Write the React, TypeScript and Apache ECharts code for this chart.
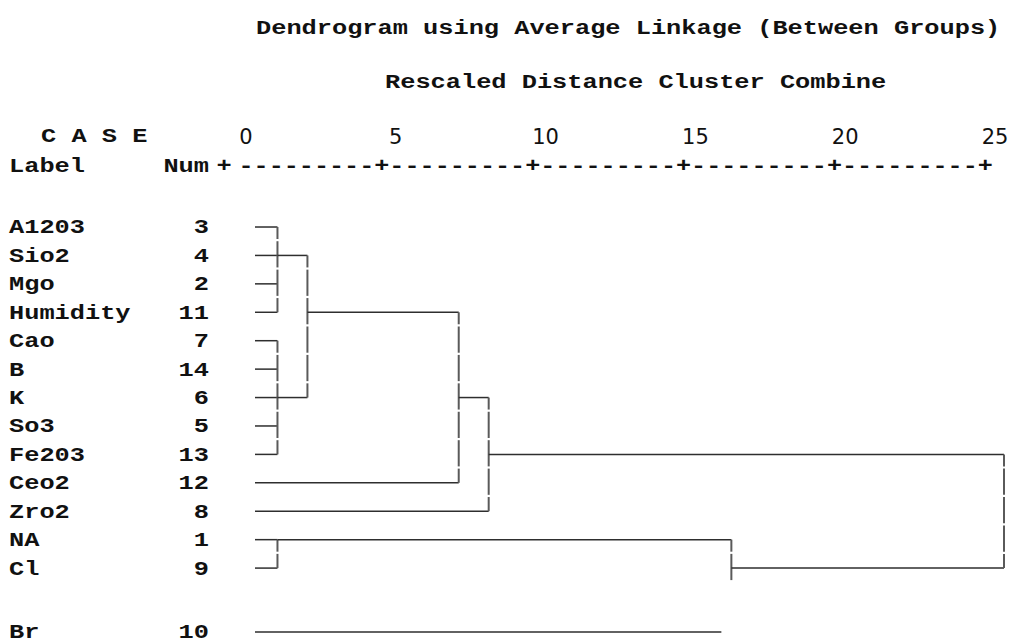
import React, { useEffect, useRef } from "react";
import * as echarts from "echarts";

// ---- data ----
const rowLabels = ["A1203", "Sio2", "Mgo", "Humidity", "Cao", "B", "K", "So3", "Fe203", "Ceo2", "Zro2", "NA", "Cl"];
const rowNums = [3, 4, 2, 11, 7, 14, 6, 5, 13, 12, 8, 1, 9];
const outlierLabel = "Br";
const outlierNum = 10;

// clusters (rescaled distance at which they combine)
const clusterHeight = [0.75, 0.75, 1.75, 6.8, 7.8, 0.75, 15.9, 25];
const clusterTopRow = [0, 4, 1, 3, 6, 11, 11, 8];
const clusterBottomRow = [3, 8, 6, 9, 10, 12, 12, 12];
const clusterOutRow = [1, 6, 3, 6, 8, 11, 12, -1];
const clusterParent = [2, 2, 3, 4, 7, 6, 7, -1];
const clusterContinues = [0, 0, 0, 0, 0, 0, 1, 0];
const leafParent = [0, 0, 0, 0, 1, 1, 1, 1, 1, 3, 4, 5, 5];
const outlierParent = 6;

const distanceTicks = [0, 5, 10, 15, 20, 25];

const titleText = "Dendrogram using Average Linkage (Between Groups)";
const subtitleText = "Rescaled Distance Cluster Combine";

const MONO = '"Liberation Mono", "Courier New", monospace';
const FONT = `bold 21px ${MONO}`;
const SX = 1.206;
const INK = "#111";
const HCOL = "#2e2e2e";
const VCOL = "#5a5a5a";

function txt(text: string, x: number, y: number, align: string, sx = SX, font = FONT) {
  return {
    type: "text",
    x,
    y,
    scaleX: sx,
    silent: true,
    style: {
      text,
      font,
      fill: INK,
      align,
      verticalAlign: "middle",
      textAlign: align,
      textVerticalAlign: "middle",
    },
  };
}

export default function App() {
  const ref = useRef<HTMLDivElement>(null);

  useEffect(() => {
    if (!ref.current) return;
    const chart = echarts.init(ref.current, undefined, { renderer: "svg" });

    const clusterData = clusterHeight.map((h, i) => [
      h,
      clusterTopRow[i],
      clusterBottomRow[i],
      clusterOutRow[i],
      clusterParent[i] >= 0 ? clusterHeight[clusterParent[i]] : -1,
      clusterContinues[i],
    ]);
    const leafData = rowLabels.map((_, i) => [clusterHeight[leafParent[i]], i]);

    const labelRender = (labels: string[], nums: number[]) => (params: any, api: any) => {
      const i = params.dataIndex;
      const cy = api.coord([0, api.value(1)])[1] + 1;
      return {
        type: "group",
        children: [txt(labels[i], 9, cy, "left"), txt(String(nums[i]), 209, cy, "right")],
      };
    };

    const option: any = {
      animation: false,
      backgroundColor: "#ffffff",
      grid: [
        { left: 255, width: 749, top: 212.8, height: 369.5 },
        { left: 246, width: 749, top: 136, height: 1 },
        { left: 255, width: 749, top: 619.8, height: 28.4 },
      ],
      xAxis: [
        { gridIndex: 0, type: "value", min: 0, max: 25, show: false },
        {
          gridIndex: 1,
          type: "value",
          min: distanceTicks[0],
          max: distanceTicks[distanceTicks.length - 1],
          interval: distanceTicks[1] - distanceTicks[0],
          axisLine: { show: false },
          axisTick: { show: false },
          splitLine: { show: false },
          axisLabel: {
            margin: 0,
            verticalAlign: "middle",
            fontFamily: '"DejaVu Sans", sans-serif',
            fontSize: 21,
            lineHeight: 22,
            color: INK,
            showMinLabel: true,
            showMaxLabel: true,
          },
        },
        { gridIndex: 2, type: "value", min: 0, max: 25, show: false },
      ],
      yAxis: [
        { gridIndex: 0, type: "category", data: rowLabels, inverse: true, show: false },
        { gridIndex: 1, type: "value", show: false },
        { gridIndex: 2, type: "category", data: [outlierLabel], inverse: true, show: false },
      ],
      graphic: [
        txt(titleText, 256, 29, "left"),
        txt(subtitleText, 385, 83, "left"),
        txt("C A S E", 41, 137, "left"),
        txt("Label", 9, 167, "left"),
        txt("Num", 209, 167, "right"),
        txt("+", 224, 167, "center"),
        txt("---------+---------+---------+---------+---------+", 238.5, 167, "left", 1.198),
      ],
      series: [
        {
          type: "custom",
          name: "labels",
          xAxisIndex: 0,
          yAxisIndex: 0,
          data: rowLabels.map((_, i) => [0, i]),
          encode: { x: 0, y: 1 },
          renderItem: labelRender(rowLabels, rowNums),
        },
        {
          type: "custom",
          name: "outlierLabel",
          xAxisIndex: 2,
          yAxisIndex: 2,
          data: [[0, 0]],
          encode: { x: 0, y: 1 },
          renderItem: labelRender([outlierLabel], [outlierNum]),
        },
        {
          type: "custom",
          name: "leaves",
          xAxisIndex: 0,
          yAxisIndex: 0,
          data: leafData,
          encode: { x: 0, y: 1 },
          renderItem: (params: any, api: any) => {
            const p0 = api.coord([0, api.value(1)]);
            const p1 = api.coord([api.value(0), api.value(1)]);
            return {
              type: "line",
              shape: { x1: p0[0], y1: p0[1], x2: p1[0], y2: p1[1] },
              style: { stroke: HCOL, lineWidth: 1.5 },
            };
          },
        },
        {
          type: "custom",
          name: "outlierLeaf",
          xAxisIndex: 2,
          yAxisIndex: 2,
          data: [[clusterHeight[outlierParent], 0]],
          encode: { x: 0, y: 1 },
          renderItem: (params: any, api: any) => {
            const p0 = api.coord([0, 0]);
            const p1 = api.coord([api.value(0), 0]);
            return {
              type: "line",
              shape: { x1: p0[0], y1: p0[1], x2: p1[0] - 10, y2: p1[1] },
              style: { stroke: HCOL, lineWidth: 1.5 },
            };
          },
        },
        {
          type: "custom",
          name: "clusters",
          xAxisIndex: 0,
          yAxisIndex: 0,
          data: clusterData,
          encode: { x: 0, y: 1 },
          renderItem: (params: any, api: any) => {
            const h = api.value(0);
            const top = api.value(1);
            const bot = api.value(2);
            const out = api.value(3);
            const ph = api.value(4);
            const cont = api.value(5);
            const band = api.size([0, 1])[1];
            const px = api.coord([h, top])[0];
            const children: any[] = [];
            for (let r = top; r <= bot; r++) {
              const cy = api.coord([h, r])[1];
              let y1 = cy - band / 2;
              let y2 = cy + band / 2 - 2.2;
              if (r === top) y1 = cy;
              if (r === bot && !cont) y2 = cy;
              children.push({
                type: "line",
                shape: { x1: px, y1, x2: px, y2 },
                style: { stroke: VCOL, lineWidth: 2 },
              });
            }
            if (out >= 0 && ph >= 0) {
              const a = api.coord([h, out]);
              const b = api.coord([ph, out]);
              children.push({
                type: "line",
                shape: { x1: a[0], y1: a[1], x2: b[0], y2: b[1] },
                style: { stroke: HCOL, lineWidth: 1.5 },
              });
            }
            return { type: "group", children };
          },
        },
      ],
    };

    chart.setOption(option);
    return () => chart.dispose();
  }, []);

  return (
    <div
      ref={ref}
      style={{ position: "fixed", left: 0, top: 0, width: 1013, height: 644, background: "#fff" }}
    />
  );
}
